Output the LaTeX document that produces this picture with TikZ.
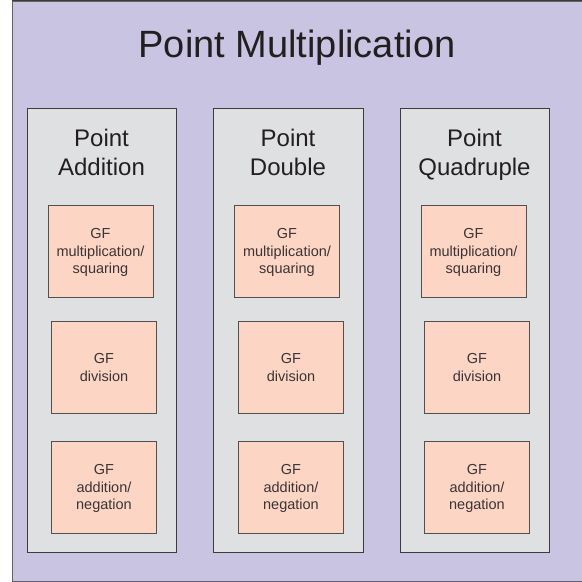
\documentclass[tikz,border=0pt]{standalone}
\usepackage{fontspec}
\setmainfont{Liberation Sans}
\definecolor{outerfill}{HTML}{C8C4E2}
\definecolor{panelfill}{HTML}{DFE0E2}
\definecolor{unitfill}{HTML}{FDD5C4}
\definecolor{edge}{HTML}{3C3C3C}
\definecolor{ink}{HTML}{231F20}
\tikzset{
  frame/.style={draw=edge!80, fill=outerfill, line width=1pt, inner sep=0pt},
  panel/.style={draw=edge, fill=panelfill, line width=1pt, inner sep=0pt,
    minimum width=149pt, minimum height=444pt},
  unit/.style={draw=edge!90, fill=unitfill, line width=1pt, inner sep=0pt,
    minimum width=105pt, minimum height=92pt, align=center, text=ink!90,
    text depth=0pt, font=\fontsize{14.5}{17.6}\selectfont},
  paneltitle/.style={anchor=north, align=center, inner sep=0pt, text=ink,
    font=\fontsize{24}{29.3}\selectfont},
}
\begin{document}
\begin{tikzpicture}[x=1pt,y=-1pt]
\useasboundingbox (0,0) rectangle (582,582);
% outer frame
\node[frame, minimum width=578pt, minimum height=580pt] (outer) at (301,291) {};
\draw[edge, line width=1pt] (outer.north west) -- (outer.north east);
\node[anchor=base, inner sep=0pt, text=ink, font=\fontsize{38}{46}\selectfont] (title) at (297,57) {Point Multiplication};

% the three point operations
\node[panel] (padd) at (101.5,330) {};
\node[panel, minimum width=150pt] (pdbl) at (288,330.5) {};
\node[panel] (pquad) at (474.5,330) {};

\node[paneltitle] (paddT) at (101.5,128.7) {Point\\Addition};
\node[paneltitle] (pdblT) at (288,128.7) {Point\\Double};
\node[paneltitle] (pquadT) at (474.5,128.7) {Point\\Quadruple};

% field arithmetic units
\node[unit] (addMul) at (100.5,251) {GF\\multiplication/\\squaring};
\node[unit] (addDiv) at (104,367.5) {GF\\division};
\node[unit] (addAdd) at (104,487) {GF\\addition/\\negation};

\node[unit] (dblMul) at (287,251) {GF\\multiplication/\\squaring};
\node[unit] (dblDiv) at (291,367.5) {GF\\division};
\node[unit] (dblAdd) at (291,487) {GF\\addition/\\negation};

\node[unit] (quadMul) at (473.5,251) {GF\\multiplication/\\squaring};
\node[unit] (quadDiv) at (477,367.5) {GF\\division};
\node[unit] (quadAdd) at (477,487) {GF\\addition/\\negation};
\end{tikzpicture}
\end{document}
